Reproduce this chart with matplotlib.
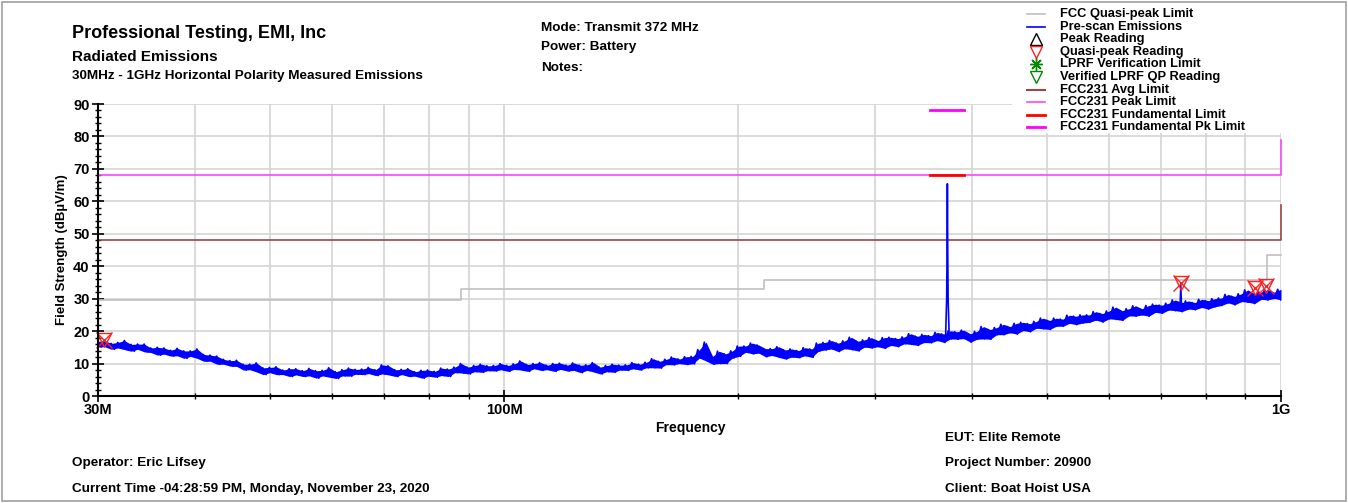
import numpy as np
import matplotlib
matplotlib.use('Agg')
from matplotlib import pyplot as plt
from matplotlib.lines import Line2D
from matplotlib.patches import Rectangle
from matplotlib.ticker import FixedLocator, NullFormatter

W, H = 1348, 503

# ---- data (MHz / dBuV/m) ----
# pre-scan sweep: upper and lower edge of the noise band at 180 points
scan_top = [
    16.8, 17.1, 16.2, 16.5, 17.1, 15.9, 16.0, 16.0, 14.8, 15.0,
    14.8, 14.1, 14.7, 13.9, 13.9, 14.5, 12.8, 12.6, 12.3, 11.3,
    10.9, 11.0, 9.8, 9.8, 10.2, 8.7, 8.8, 9.0, 8.0, 8.4,
    8.4, 7.8, 8.5, 7.8, 7.9, 8.7, 7.5, 8.1, 8.6, 8.2,
    8.3, 8.8, 8.1, 9.6, 9.3, 8.1, 8.2, 8.4, 7.5, 7.9,
    8.0, 7.6, 8.6, 8.3, 8.9, 10.0, 8.9, 9.4, 9.8, 9.3,
    9.4, 10.0, 9.4, 9.9, 10.8, 9.7, 10.0, 10.3, 9.5, 10.0,
    10.1, 9.5, 10.2, 9.5, 9.6, 10.3, 8.9, 9.4, 9.8, 9.5,
    9.6, 10.3, 9.8, 10.4, 11.5, 10.7, 11.3, 12.0, 11.4, 12.1,
    12.2, 14.3, 16.6, 12.2, 13.8, 13.0, 13.9, 15.4, 15.4, 16.3,
    15.7, 14.6, 14.6, 15.2, 14.2, 14.5, 14.0, 14.9, 14.5, 16.3,
    16.5, 17.1, 16.3, 17.0, 18.1, 16.9, 17.3, 18.0, 17.1, 18.0,
    18.1, 17.7, 18.2, 19.2, 18.4, 19.0, 18.6, 19.6, 19.1, 20.1,
    19.8, 20.3, 19.2, 19.9, 21.4, 20.5, 21.1, 22.1, 21.4, 22.4,
    22.7, 22.3, 23.0, 24.0, 23.3, 24.0, 23.7, 24.9, 24.6, 25.0,
    25.0, 26.0, 25.4, 26.2, 27.4, 26.3, 26.9, 27.8, 26.9, 27.9,
    28.3, 28.0, 28.6, 29.6, 28.8, 29.3, 28.8, 29.8, 29.4, 30.0,
    30.2, 31.3, 30.7, 31.5, 32.7, 31.5, 32.0, 32.8, 32.0, 32.9,
]
scan_bottom = [
    15.1, 15.2, 14.4, 14.8, 14.3, 13.8, 14.4, 13.6, 13.4, 12.6,
    12.9, 12.3, 12.4, 11.6, 12.2, 11.6, 10.7, 10.7, 9.8, 9.8,
    9.2, 9.1, 8.0, 8.1, 7.4, 6.6, 7.2, 6.6, 6.6, 6.0,
    6.5, 6.0, 6.2, 5.5, 6.2, 5.8, 5.4, 6.2, 6.1, 6.7,
    6.6, 6.9, 6.3, 6.8, 6.5, 6.0, 6.6, 6.0, 6.1, 5.5,
    6.1, 5.8, 6.3, 6.0, 7.2, 7.1, 6.8, 7.5, 7.3, 7.8,
    7.7, 8.1, 7.6, 8.2, 8.0, 7.6, 8.4, 7.9, 8.1, 7.6,
    8.2, 7.7, 7.9, 7.2, 7.9, 7.4, 6.8, 7.5, 7.3, 8.0,
    7.9, 8.4, 8.0, 8.7, 8.7, 8.6, 9.7, 9.6, 10.0, 9.7,
    9.9, 11.7, 10.8, 9.8, 10.0, 10.0, 11.7, 12.2, 13.5, 13.0,
    13.2, 12.1, 12.5, 11.9, 11.4, 12.0, 11.8, 12.4, 11.9, 13.8,
    14.2, 14.5, 13.7, 14.6, 14.3, 13.9, 15.1, 14.8, 15.2, 14.7,
    15.6, 15.2, 16.1, 15.9, 15.6, 16.5, 16.4, 17.1, 16.5, 17.6,
    17.5, 17.7, 16.6, 17.5, 17.6, 17.5, 18.9, 18.9, 19.5, 19.1,
    20.2, 19.8, 20.9, 20.7, 20.5, 21.5, 21.5, 22.4, 22.0, 22.5,
    22.7, 23.4, 22.8, 23.8, 23.6, 23.3, 24.7, 24.6, 25.0, 24.6,
    25.8, 25.5, 26.5, 26.3, 26.0, 26.8, 26.6, 27.3, 26.8, 27.5,
    27.9, 28.7, 28.1, 29.1, 28.9, 28.5, 29.8, 29.6, 30.1, 29.6,
]
# narrow emissions on top of the sweep
fund_freq = [370.0, 371.2, 371.6, 372.0, 372.4, 372.8, 374.0]
fund_level = [18.0, 30.0, 44.0, 65.4, 44.0, 30.0, 18.5]
harm_freq = [741.0, 743.0, 745.0]
harm_level = [27.5, 34.9, 27.5]

# quasi-peak readings
qp_freq = [30.5, 743.0, 927.0, 957.0]
qp_level = [17.3, 34.9, 33.3, 34.0]

# limits
qp_lim_freq = [30, 88, 88, 216, 216, 960, 960, 1000]
qp_lim_level = [29.5, 29.5, 33.1, 33.1, 35.6, 35.6, 43.5, 43.5]
avg_lim_freq = [30, 1000, 1000]
avg_lim_level = [48, 48, 58.8]
pk_lim_freq = [30, 1000, 1000]
pk_lim_level = [68, 68, 79]
fund_lim_freq = [353, 391]
fund_lim_level = [68, 68]
fund_pk_lim_level = [88, 88]

plt.rcParams['font.family'] = ['Liberation Sans', 'DejaVu Sans']
plt.rcParams['font.weight'] = 'bold'

fig = plt.figure(figsize=(W / 100, H / 100), dpi=100)
ax = fig.add_axes([98 / W, 1 - 396 / H, (1281 - 98) / W, (396 - 104) / H])


def px(x, y):
    """ pixel position (from top left) to figure fraction """
    return x / W, 1 - y / H


# limits
ax.plot(qp_lim_freq, qp_lim_level, color='#c0c0c0', lw=1.2, clip_on=False)
ax.plot(avg_lim_freq, avg_lim_level, color='#9b4646', lw=1.2, clip_on=False)
ax.plot(pk_lim_freq, pk_lim_level, color='#ff44ff', lw=1.2, clip_on=False)
ax.plot(fund_lim_freq, fund_lim_level, color='#ff0000', lw=2)
ax.plot(fund_lim_freq, fund_pk_lim_level, color='#ff00ff', lw=2)

# pre-scan sweep: solid band between the edges, plus the jagged trace
band_freq = np.geomspace(30, 1000, len(scan_top))
ax.fill_between(band_freq, scan_bottom, scan_top, color='#0000ff', lw=0)
sweep_freq = np.geomspace(30, 1000, 2 * len(scan_top))
sweep_level = np.empty(2 * len(scan_top))
sweep_level[0::2] = scan_top
sweep_level[1::2] = scan_bottom
ax.plot(sweep_freq, sweep_level, color='#0000ff', lw=1.2)
ax.plot(fund_freq, fund_level, color='#0000ff', lw=1.2)
ax.plot(harm_freq, harm_level, color='#0000ff', lw=1.0)

# quasi-peak markers
ax.plot(qp_freq, qp_level, ls='none', marker='v', ms=10.5, mfc='none',
        mec='#ff2020', mew=1.0, clip_on=False)
ax.plot(qp_freq, qp_level, ls='none', marker='x', ms=11,
        mec='#ff2020', mew=1.0, clip_on=False)

ax.set_xscale('log')
ax.set_xlim(30, 1000)
ax.set_ylim(0, 90)
ax.xaxis.set_major_locator(FixedLocator([30, 100, 1000]))
ax.xaxis.set_minor_locator(FixedLocator([40, 50, 60, 70, 80, 90,
                                         200, 300, 400, 500, 600, 700, 800, 900]))
ax.set_xticklabels(['30M', '100M', '1G'])
ax.xaxis.set_minor_formatter(NullFormatter())
ax.set_yticks(range(0, 91, 10))
ax.yaxis.set_minor_locator(FixedLocator(range(0, 91, 2)))
ax.grid(True, which='both', axis='x', color='#d4d4d4', lw=1.2)
ax.grid(True, which='major', axis='y', color='#d4d4d4', lw=1.2)
ax.set_axisbelow(True)
ax.tick_params(axis='both', which='major', labelsize=10.5, direction='inout',
               length=8, width=1.2)
ax.tick_params(axis='both', which='minor', direction='inout', length=5, width=1)
ax.tick_params(axis='x', which='major', pad=1)
ax.tick_params(axis='y', which='major', pad=2)
for side in ('top', 'right'):
    ax.spines[side].set_visible(False)
for side in ('left', 'bottom'):
    ax.spines[side].set_linewidth(1.5)

ax.set_ylabel('Field Strength (dBµV/m)', fontsize=9.5, fontweight='bold', labelpad=4)
fig.text(*px(690, 428), 'Frequency', ha='center', va='center', fontsize=10)

# header / footer text
fig.text(*px(72, 33), 'Professional Testing, EMI, Inc', fontsize=13, va='center')
fig.text(*px(72, 57), 'Radiated Emissions', fontsize=11, va='center')
fig.text(*px(72, 76), '30MHz - 1GHz Horizontal Polarity Measured Emissions',
         fontsize=9.7, va='center')
fig.text(*px(541, 28), 'Mode: Transmit 372 MHz', fontsize=9.7, va='center')
fig.text(*px(541, 47), 'Power: Battery', fontsize=9.7, va='center')
fig.text(*px(541, 68), 'Notes:', fontsize=9.7, va='center')
fig.text(*px(945, 438), 'EUT: Elite Remote', fontsize=9.7, va='center')
fig.text(*px(72, 463), 'Operator: Eric Lifsey', fontsize=9.7, va='center')
fig.text(*px(945, 463), 'Project Number: 20900', fontsize=9.7, va='center')
fig.text(*px(72, 489), 'Current Time -04:28:59 PM, Monday, November 23, 2020',
         fontsize=9.7, va='center')
fig.text(*px(945, 489), 'Client: Boat Hoist USA', fontsize=9.7, va='center')

# legend block (white panel over the top-right of the plot)
x0, y0 = px(1012, 133)
fig.patches.append(Rectangle((x0, y0), 1 - x0 - 4 / W, 1 - y0 - 4 / H,
                             transform=fig.transFigure, facecolor='white',
                             edgecolor='none', zorder=1))
legend_rows = [
    ('FCC Quasi-peak Limit', dict(color='#c0c0c0', lw=1.2)),
    ('Pre-scan Emissions', dict(color='#0000ff', lw=1.2)),
    ('Peak Reading', dict(ls='none', marker='^', mfc='none', mec='black')),
    ('Quasi-peak Reading', dict(ls='none', marker='v', mfc='none', mec='#ff2020')),
    ('LPRF Verification Limit', dict(ls='none', marker=(8, 2, 0), mec='#008800')),
    ('Verified LPRF QP Reading', dict(ls='none', marker='v', mfc='none', mec='#008800')),
    ('FCC231 Avg Limit', dict(color='#9b4646', lw=1.5)),
    ('FCC231 Peak Limit', dict(color='#ff44ff', lw=1.2)),
    ('FCC231 Fundamental Limit', dict(color='#ff0000', lw=2)),
    ('FCC231 Fundamental Pk Limit', dict(color='#ff00ff', lw=2)),
]
for k, (label, style) in enumerate(legend_rows):
    yy = 14 + 12.6 * k
    if 'marker' in style:
        xs, ys = px(1036, yy)
        fig.add_artist(Line2D([xs], [ys], transform=fig.transFigure, ms=9,
                              mew=1.0, zorder=4, **style))
    else:
        xa, ys = px(1027, yy)
        xb, _ = px(1045, yy)
        fig.add_artist(Line2D([xa, xb], [ys, ys], transform=fig.transFigure,
                              zorder=4, **style))
    fig.text(*px(1060, yy), label, fontsize=9.3, va='center', zorder=5)

# grey frame round the whole picture
fig.patches.append(Rectangle((2 / W, 2 / H), 1 - 4 / W, 1 - 4 / H,
                             transform=fig.transFigure, facecolor='none',
                             edgecolor='#a0a0a0', lw=1.2, zorder=6))

fig.savefig('out.png', dpi=100)
